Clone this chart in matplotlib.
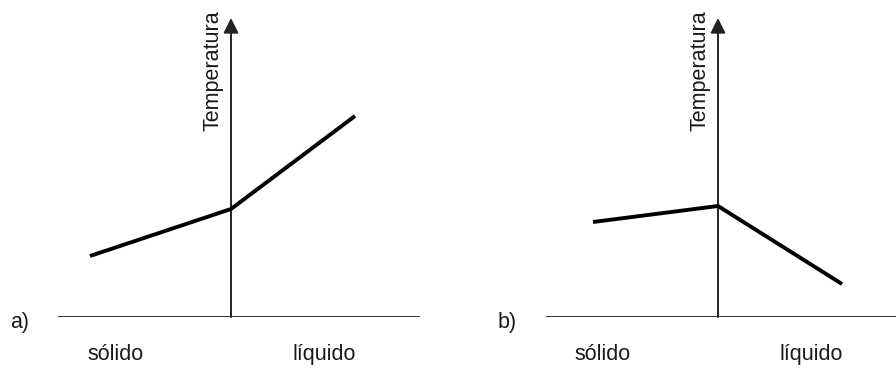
import matplotlib
matplotlib.use("Agg")
import matplotlib.pyplot as plt

plt.rcParams['font.family'] = ['Liberation Sans', 'DejaVu Sans']

# Schematic temperature profiles across the solid / liquid interface (x = 0)
pos_a = [-1.41, 0.0, 1.24]
temp_a = [0.61, 1.08, 2.01]
pos_b = [-1.25, 0.0, 1.24]
temp_b = [0.95, 1.11, 0.33]

panel_tags = ["a)", "b)"]
axis_title = "Temperatura"
phase_names = ["sólido", "líquido"]

W, H = 896, 368
fig = plt.figure(figsize=(W / 100, H / 100), dpi=100)
fig.patch.set_facecolor('white')

# (left px, right px, origin px) for each panel; vertical span shared
layouts = [(58, 420, 231), (546, 896, 718)]
y_base, y_top = 317, 18
data = [(pos_a, temp_a), (pos_b, temp_b)]
txt_color = '#1a1a1a'
fs = 15.5

for (left, right, org), (xs, ts), tag in zip(layouts, data, panel_tags):
    ax = fig.add_axes([left / W, (H - y_base) / H, (right - left) / W, (y_base - y_top) / H])
    ax.set_xlim((left - org) / 100, (right - org) / 100)
    ax.set_ylim(0, (y_base - y_top) / 100)
    ax.axis('off')

    # horizontal axis
    ax.axhline(0, color='#333333', lw=1.4, zorder=1)
    # vertical temperature axis with arrow
    ax.annotate('', xy=(0, (y_base - y_top) / 100), xytext=(0, 0),
                arrowprops=dict(arrowstyle='-|>,head_length=0.6,head_width=0.3',
                                mutation_scale=15, color='#222222', lw=1.4,
                                shrinkA=0, shrinkB=0),
                annotation_clip=False, zorder=2)

    ax.plot(xs, ts, color='black', lw=2.8, solid_capstyle='butt', zorder=3)

    ax.text(-0.185, 2.46, axis_title, rotation=90, ha='center', va='center',
            fontsize=fs, color=txt_color, clip_on=False)
    ax.text(-2.11, -0.11, tag, ha='center', va='baseline', fontsize=fs,
            color=txt_color, clip_on=False)
    ax.text(-1.15, -0.43, phase_names[0], ha='center', va='baseline', fontsize=fs,
            color=txt_color, clip_on=False)
    ax.text(0.935, -0.43, phase_names[1], ha='center', va='baseline', fontsize=fs,
            color=txt_color, clip_on=False)

fig.savefig('out.png', dpi=100, facecolor='white')
